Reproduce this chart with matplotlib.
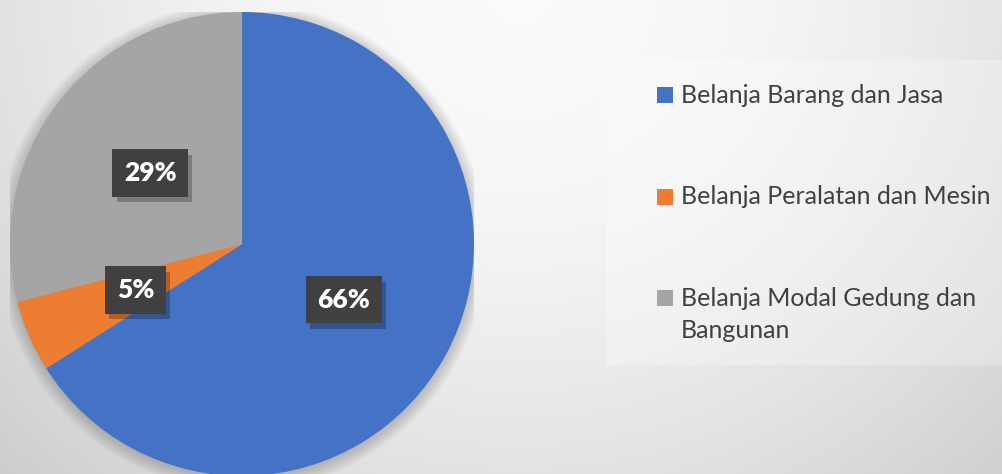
import numpy as np
import matplotlib
matplotlib.use("Agg")
import matplotlib.pyplot as plt
import matplotlib.patheffects as pe
from matplotlib.patches import Circle, Rectangle

# --- data ---
categories = ["Belanja Barang dan Jasa",
              "Belanja Peralatan dan Mesin",
              "Belanja Modal Gedung dan\nBangunan"]
shares = [66, 5, 29]
colors = ["#4472C4", "#ED7D31", "#A5A5A5"]

W, H = 1003, 474
fig = plt.figure(figsize=(W / 100, H / 100), dpi=100)

# background: soft radial gradient, bright near top middle
bg = fig.add_axes([0, 0, 1, 1])
yy, xx = np.mgrid[0:H, 0:W]
d = np.hypot((xx - 520) / 1.0, (yy + 10) / 0.95) / 700.0
val = 0.985 - 0.17 * np.clip(d, 0, 1.2) ** 1.8
bg.imshow(np.dstack([val, val, val]), extent=[0, W, H, 0], aspect="auto")
bg.set_xlim(0, W)
bg.set_ylim(H, 0)
bg.axis("off")

# legend panel
bg.add_patch(Rectangle((606, 60), W - 606, 305, facecolor="white",
                       alpha=0.25, edgecolor="none"))

# pie axes: centre (242, 244), radius 232 px
cx, cy, r = 242, 244, 232
ax = fig.add_axes([(cx - r) / W, (H - cy - r) / H, 2 * r / W, 2 * r / H])

# soft shadow round the pie
for k in range(10):
    ax.add_patch(Circle((0.0, -0.01), 1.0 + 0.006 * k, facecolor="black",
                        alpha=0.018, edgecolor="none", zorder=0))

wedges, _ = ax.pie(shares, colors=colors, startangle=90, counterclock=False,
                   radius=1.0, wedgeprops=dict(linewidth=0))
ax.set_xlim(-1, 1)
ax.set_ylim(-1, 1)
ax.set_aspect("auto")
ax.axis("off")

# percentage labels at half radius in dark boxes
plt.rcParams["hatch.color"] = "#525252"
plt.rcParams["hatch.linewidth"] = 1.5
for w, v in zip(wedges, shares):
    ang = np.deg2rad((w.theta1 + w.theta2) / 2)
    x, y = 0.5 * np.cos(ang), 0.5 * np.sin(ang)
    t = ax.text(x, y, "%d%%" % v, ha="center", va="center", fontsize=19,
                fontweight="heavy", family="Lato", color="white", zorder=4,
                bbox=dict(boxstyle="square,pad=0.44", facecolor="#404040",
                          edgecolor="none", hatch="."))
    t.get_bbox_patch().set_path_effects(
        [pe.SimplePatchShadow(offset=(3, -4), shadow_rgbFace="black", alpha=0.25),
         pe.Normal()])

# legend
rows_y = [95, 197, 298]
for lab, col, y in zip(categories, colors, rows_y):
    bg.add_patch(Rectangle((657, y - 8), 16, 16, facecolor=col, edgecolor="none"))
    for j, line in enumerate(lab.split("\n")):
        bg.text(681, y + j * 32, line, ha="left", va="center", fontsize=18,
                family="Lato", color="#404040")

fig.savefig("out.png", dpi=100)
